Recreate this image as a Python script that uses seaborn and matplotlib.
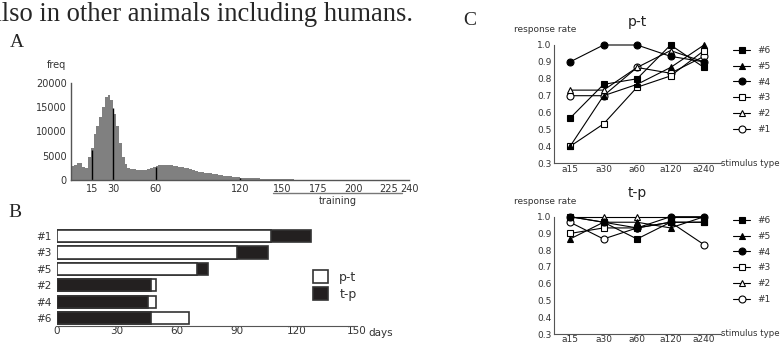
import matplotlib
matplotlib.use("Agg")
import matplotlib.pyplot as plt
import numpy as np
import pandas as pd
import seaborn as sns
from matplotlib.patches import Patch

sns.set_style("white")
plt.rcParams['font.family'] = ['DejaVu Sans']

# ---- panel A: interval histogram (2 ms bins) ----
bin_width = 2
hist_freq = [2900, 3100, 3400, 3500, 2600, 2400, 4800, 6500, 9500, 11000,
             13000, 15000, 17000, 17400, 16500, 13500, 11000, 7600, 4800, 3200,
             2500, 2300, 2200, 2100, 2100, 2100, 2100, 2200, 2400, 2700,
             2900, 3000, 3000, 3100, 3000, 3000, 2900, 2800, 2700, 2600,
             2500, 2400, 2200, 2000, 1900, 1700, 1600, 1500, 1400, 1350,
             1300, 1200, 1100, 1000, 900, 800, 750, 700, 600, 550,
             500, 450, 450, 400, 380, 350, 320, 300, 280, 260,
             250, 240, 220, 200, 180, 160, 150, 140, 120]
mark_ms = [15, 30, 60, 120]
mark_freq = [6200, 14800, 2700, 500]
a_ticks = [15, 30, 60, 120, 150, 175, 200, 225, 240]

# ---- panel B: training days per animal ----
animals = ['#1', '#3', '#5', '#2', '#4', '#6']
first_phase = ['p-t', 'p-t', 'p-t', 't-p', 't-p', 't-p']
second_phase = ['t-p', 't-p', 't-p', 'p-t', 'p-t', 'p-t']
first_days = [107, 90, 70, 47, 45.5, 47]
total_days = [127, 105.5, 75.5, 49.5, 49.5, 66]

# ---- panel C: response rates ----
stimuli = ['a15', 'a30', 'a60', 'a120', 'a240']
pt_1 = [0.700, 0.700, 0.867, 0.833, 0.933]
pt_2 = [0.733, 0.733, 0.867, 0.967, 0.900]
pt_3 = [0.400, 0.533, 0.750, 0.817, 0.967]
pt_4 = [0.900, 1.000, 1.000, 0.933, 0.900]
pt_5 = [0.400, 0.700, 0.767, 0.867, 1.000]
pt_6 = [0.567, 0.767, 0.800, 1.000, 0.867]
tp_1 = [0.967, 0.867, 0.933, 0.967, 0.833]
tp_2 = [1.000, 1.000, 1.000, 1.000, 1.000]
tp_3 = [0.900, 0.933, 0.933, 0.967, 0.967]
tp_4 = [1.000, 0.967, 0.933, 1.000, 1.000]
tp_5 = [0.867, 0.967, 0.967, 0.933, 1.000]
tp_6 = [1.000, 0.967, 0.867, 0.967, 0.967]
c_names = ['#1', '#2', '#3', '#4', '#5', '#6']
c_markers = ['o', '^', 's', 'o', '^', 's']
c_filled = [False, False, False, True, True, True]

W, H = 782, 343
fig = plt.figure(figsize=(W / 100, H / 100), dpi=100)
AX = '#555555'
TXT = '#333333'


def px_axes(x0, y_top, x1, y_bot):
    return fig.add_axes([x0 / W, 1 - y_bot / H, (x1 - x0) / W, (y_bot - y_top) / H])


serif = ['Liberation Serif', 'DejaVu Serif']
fig.text(-10 / W, 1 - 21 / H, "also in other animals including humans.", family=serif,
         fontsize=19.1, ha='left', va='baseline')
fig.text(10 / W, 1 - 47 / H, "A", family=serif, fontsize=14, va='baseline')
fig.text(8 / W, 1 - 217 / H, "B", family=serif, fontsize=14, va='baseline')
fig.text(463 / W, 1 - 25 / H, "C", family=serif, fontsize=14, va='baseline')

# ---------- A ----------
axA = px_axes(71, 82.7, 409.5, 180)
dfA = pd.DataFrame({'ms': np.arange(len(hist_freq)) * bin_width + bin_width / 2,
                    'freq': hist_freq})
sns.histplot(data=dfA, x='ms', weights='freq', binwidth=bin_width,
             binrange=(0, len(hist_freq) * bin_width), element='step', fill=True,
             color='#808080', alpha=1, linewidth=0, ax=axA)
axA.vlines(mark_ms, 0, mark_freq, color='black', lw=1)
axA.set_xlim(0, 240)
axA.set_ylim(0, 20000)
axA.set_xticks(a_ticks)
axA.set_yticks([0, 5000, 10000, 15000, 20000])
axA.set_xlabel('')
axA.set_ylabel('')
for s in ['top', 'right']:
    axA.spines[s].set_visible(False)
for s in ['left', 'bottom']:
    axA.spines[s].set_color(AX)
    axA.spines[s].set_linewidth(1)
axA.tick_params(direction='in', length=3, width=1, color=AX, labelsize=7,
                labelcolor=TXT, pad=3)
fig.text(56 / W, 1 - 65 / H, 'freq', fontsize=7, color=TXT, ha='center', va='center')
tr = axA.get_xaxis_transform()
axA.plot([143, 235], [-0.13, -0.13], transform=tr, color='#777777', lw=1, clip_on=False)
axA.text(189, -0.216, 'training', transform=tr, fontsize=7, color=TXT,
         ha='center', va='center')

# ---------- B ----------
axB = px_axes(56.7, 226, 356.7, 326)
dfB = pd.DataFrame({'animal': animals, 'first': first_phase, 'second': second_phase,
                    'first_days': first_days, 'total_days': total_days})
pal = {'p-t': 'white', 't-p': '#231f20'}
sns.barplot(data=dfB, x='total_days', y='animal', hue='second', palette=pal,
            orient='h', width=0.75, edgecolor='#333333', linewidth=1.2,
            dodge=False, legend=False, ax=axB)
sns.barplot(data=dfB, x='first_days', y='animal', hue='first', palette=pal,
            orient='h', width=0.75, edgecolor='#333333', linewidth=1.2,
            dodge=False, legend=False, ax=axB)
axB.set_xlim(0, 150)
axB.set_ylim(5.47, -0.6)
axB.set_xticks([0, 30, 60, 90, 120, 150])
axB.set_xlabel('')
axB.set_ylabel('')
for s in ['top', 'right', 'left']:
    axB.spines[s].set_visible(False)
axB.spines['bottom'].set_color(AX)
axB.tick_params(axis='x', direction='in', length=3, color=AX, labelsize=7.5,
                labelcolor=TXT, pad=0)
axB.tick_params(axis='y', length=0, labelsize=7.5, labelcolor=TXT, pad=4)
axB.text(1.04, -0.07, 'days', transform=axB.transAxes, fontsize=7.5, color=TXT,
         ha='left', va='center')
handles = [Patch(facecolor='white', edgecolor='#333333', lw=1.2),
           Patch(facecolor='#231f20', edgecolor='#333333', lw=1.2)]
axB.legend(handles, ['p-t', 't-p'], loc='upper left', frameon=False,
           bbox_to_anchor=(313 / W, 1 - 270 / H), bbox_transform=fig.transFigure,
           handlelength=1.2, handleheight=1.2, fontsize=9, labelspacing=0.3,
           handletextpad=0.9, borderpad=0, borderaxespad=0, labelcolor=TXT)


# ---------- C ----------
def response_panel(ax, series, title, legend_top):
    for name, vals, m, filled in zip(c_names, series, c_markers, c_filled):
        sns.lineplot(x=stimuli, y=vals, ax=ax, color='black', marker=m, markersize=5,
                     markerfacecolor='black' if filled else 'white',
                     markeredgecolor='black', markeredgewidth=0.8, linewidth=0.8,
                     label=name, sort=False, clip_on=False)
    ax.set_xlim(-0.47, 4.5)
    ax.set_ylim(0.3, 1.0)
    ax.set_yticks(np.arange(3, 11) / 10)
    ax.set_yticklabels([f'{v / 10:.1f}' for v in range(3, 11)])
    ax.set_xticks(range(len(stimuli)))
    ax.set_xticklabels(stimuli)
    ax.set_xticks([0.5, 1.5, 2.5, 3.5], minor=True)
    ax.set_xlabel('')
    ax.set_ylabel('')
    for s in ['top', 'right']:
        ax.spines[s].set_visible(False)
    for s in ['left', 'bottom']:
        ax.spines[s].set_color(AX)
    ax.tick_params(axis='x', which='major', length=0, labelsize=6.5, labelcolor=TXT, pad=1)
    ax.tick_params(axis='x', which='minor', direction='in', length=3, color=AX)
    ax.tick_params(axis='y', direction='in', length=3, color=AX, labelsize=6.5,
                   labelcolor=TXT, pad=2)
    ax.set_title(title, fontsize=10, color='#222222', pad=14)
    ax.text(1.004, 0, 'stimulus type', transform=ax.transAxes, fontsize=6.2, color=TXT,
            ha='left', va='center')
    ax.text(-0.24, 1.13, 'response rate', transform=ax.transAxes, fontsize=6.5,
            color=TXT, ha='left', va='center')
    h, l = ax.get_legend_handles_labels()
    ax.legend(h[::-1], l[::-1], loc='upper left', frameon=False,
              bbox_to_anchor=(733 / W, 1 - legend_top / H), bbox_transform=fig.transFigure,
              handlelength=1.9, handletextpad=0.8, fontsize=6.5, labelspacing=0.75,
              borderpad=0, borderaxespad=0, labelcolor=TXT)


axC1 = px_axes(554.3, 45, 720.8, 163.3)
response_panel(axC1, [pt_1, pt_2, pt_3, pt_4, pt_5, pt_6], 'p-t', 46)
axC2 = px_axes(554.3, 216.7, 720.8, 334)
response_panel(axC2, [tp_1, tp_2, tp_3, tp_4, tp_5, tp_6], 't-p', 216)

fig.savefig('out.png', dpi=100)
